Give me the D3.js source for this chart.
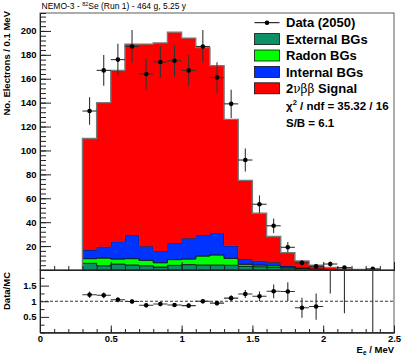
<!DOCTYPE html>
<html>
<head>
<meta charset="utf-8">
<script src="https://cdn.jsdelivr.net/npm/d3@7"></script>
<style>
  body { margin: 0; background: #fff; }
  svg text { font-family: "Liberation Sans", Arial, Helvetica, sans-serif; }
</style>
</head>
<body>
<script>
// bins of 0.1 MeV, lower edges
var binLow = [0.3, 0.4, 0.5, 0.6, 0.7, 0.8, 0.9, 1.0, 1.1, 1.2, 1.3, 1.4, 1.5, 1.6, 1.7, 1.8, 1.9, 2.0, 2.1, 2.2, 2.3];
var binWidth = 0.1;

// data (2050 events) and its errors
var dataCounts = [133, 167, 176, 187, 164, 174, 175, 167, 187, 161, 139, 92, 55, 37, 19, 6, 3, 5, 2, 0, 1];
var dataErrors = [11.5, 12.9, 13.3, 13.7, 12.8, 13.2, 13.2, 12.9, 13.7, 12.7, 11.8, 9.6, 7.4, 6.1, 4.4, 2.4, 1.7, 2.2, 1.4, 0, 1.0];

// MC components, bottom to top
var externalBG = [5.6, 3.6, 5.0, 4.2, 3.6, 2.5, 3.9, 4.5, 4.2, 4.2, 4.0, 3.1, 2.8, 2.2, 1.8, 1.2, 0.8, 0.5, 0.3, 0.2, 0.1];
var radonBG    = [3.9, 6.4, 4.2, 5.3, 4.5, 3.6, 4.8, 4.7, 7.5, 8.4, 5.8, 1.7, 1.4, 1.4, 0.7, 0.4, 0.2, 0.1, 0.05, 0, 0];
var internalBG = [7.2, 9.5, 14.5, 19.5, 11.7, 9.5, 13.6, 17.3, 17.3, 18.1, 10.4, 4.4, 3.6, 2.8, 0.8, 0.4, 0.2, 0.1, 0.05, 0, 0];
var signal2nu  = [93.3, 120.5, 143.3, 160, 169.2, 174.4, 176.7, 167.5, 157, 140.3, 105.8, 65.8, 39.7, 21.6, 11.2, 5.6, 2.9, 1.5, 0.55, 0.2, 0.1];

// data / MC
var ratioValues = [1.21, 1.19, 1.05, 0.99, 0.87, 0.91, 0.88, 0.86, 1.00, 0.94, 1.10, 1.23, 1.16, 1.32, 1.31, 0.79, 0.83, 2.27, 2.1, null, 5.0];
var ratioErrors = [0.105, 0.092, 0.08, 0.072, 0.068, 0.069, 0.066, 0.067, 0.074, 0.074, 0.094, 0.128, 0.156, 0.22, 0.30, 0.32, 0.42, 1.02, 1.48, null, 5.0];

// tick labels
var xTicks = [0, 0.5, 1, 1.5, 2, 2.5];
var yTicks = [20, 40, 60, 80, 100, 120, 140, 160, 180, 200];
var ratioTicks = [0.5, 1, 1.5];

var legendItems = [
  {key: "ext", label: "External BGs", color: "#0c9068"},
  {key: "radon", label: "Radon BGs", color: "#00ff00"},
  {key: "internal", label: "Internal BGs", color: "#0033ff"},
  {key: "signal", label: "Signal", color: "#ff0000"}
];

var W = 415, H = 360;
var left = 40, right = 394, topY = 13, midY = 270, botY = 332.5;

var svg = d3.select("body").append("svg")
    .attr("width", W)
    .attr("height", H);

// scales
var x = d3.scaleLinear().domain([0, 2.5]).range([left, right]);
var y = d3.scaleLinear().domain([0, 215]).range([midY, topY]);
var yr = d3.scaleLinear().domain([0, 2]).range([botY, midY]);

// stacked MC
var rows = binLow.map(function(lo, i) {
  return {lo: lo, ext: externalBG[i], radon: radonBG[i], internal: internalBG[i], signal: signal2nu[i]};
});
var layers = d3.stack().keys(["ext", "radon", "internal", "signal"])(rows);

function steps(layer) {
  var pts = [];
  layer.forEach(function(d) {
    pts.push({x: d.data.lo, y0: d[0], y1: d[1]});
    pts.push({x: d.data.lo + binWidth, y0: d[0], y1: d[1]});
  });
  return pts;
}

var area = d3.area()
    .x(function(p) { return x(p.x); })
    .y0(function(p) { return y(p.y0); })
    .y1(function(p) { return y(p.y1); });

var colorOf = {};
legendItems.forEach(function(l) { colorOf[l.key] = l.color; });

var upper = svg.append("g");
layers.forEach(function(layer) {
  upper.append("path")
    .attr("d", area(steps(layer)))
    .attr("fill", colorOf[layer.key])
    .attr("stroke", layer.key == "signal" ? "none" : "#111")
    .attr("stroke-width", 0.8);
});

// grey outline of total MC
var totalSteps = steps(layers[3]);
var outline = [{x: totalSteps[0].x, v: 0}]
    .concat(totalSteps.map(function(p) { return {x: p.x, v: p.y1}; }))
    .concat([{x: totalSteps[totalSteps.length - 1].x, v: 0}]);
upper.append("path")
    .attr("d", d3.line().x(function(p) { return x(p.x); }).y(function(p) { return y(p.v); })(outline))
    .attr("fill", "none")
    .attr("stroke", "#777")
    .attr("stroke-width", 1.4);

// data points
var pts = binLow.map(function(lo, i) { return {c: lo + binWidth / 2, v: dataCounts[i], e: dataErrors[i]}; })
    .filter(function(d) { return d.v > 0; });
var dg = upper.append("g").attr("stroke", "#333").attr("stroke-width", 1.1);
pts.forEach(function(d) {
  dg.append("line").attr("x1", x(d.c - binWidth / 2)).attr("x2", x(d.c + binWidth / 2))
    .attr("y1", y(d.v)).attr("y2", y(d.v));
  dg.append("line").attr("x1", x(d.c)).attr("x2", x(d.c))
    .attr("y1", y(d.v - d.e)).attr("y2", y(d.v + d.e));
});
upper.selectAll("circle.pt").data(pts).enter().append("circle")
    .attr("cx", function(d) { return x(d.c); })
    .attr("cy", function(d) { return y(d.v); })
    .attr("r", 2.3)
    .attr("fill", "#000");

// frames
function frame(y0, y1) {
  svg.append("rect").attr("x", left).attr("y", y0).attr("width", right - left).attr("height", y1 - y0)
    .attr("fill", "none").attr("stroke", "#333").attr("stroke-width", 0.8);
}
frame(topY, midY);
frame(midY, botY);

// upper axes, ROOT style ticks pointing inward
var yAxis = d3.axisLeft(y).tickValues(yTicks).tickSizeInner(-11).tickSizeOuter(0).tickPadding(3.5);
svg.append("g").attr("transform", "translate(" + left + ",0)").call(yAxis);
var yMinor = d3.axisLeft(y).tickValues(d3.range(4, 215, 4)).tickSize(-6).tickFormat("");
svg.append("g").attr("transform", "translate(" + left + ",0)").call(yMinor);

var xUpMajor = d3.axisBottom(x).tickValues(xTicks).tickSize(-8).tickFormat("");
svg.append("g").attr("transform", "translate(0," + midY + ")").call(xUpMajor);
var xUpMinor = d3.axisBottom(x).tickValues(d3.range(0.1, 2.5, 0.1)).tickSize(-4).tickFormat("");
svg.append("g").attr("transform", "translate(0," + midY + ")").call(xUpMinor);

// lower panel
svg.append("clipPath").attr("id", "rclip").append("rect")
    .attr("x", left).attr("y", midY).attr("width", right - left).attr("height", botY - midY);
var lower = svg.append("g").attr("clip-path", "url(#rclip)");

lower.append("line")
    .attr("x1", x(0)).attr("x2", x(2.5)).attr("y1", yr(1)).attr("y2", yr(1))
    .attr("stroke", "#000").attr("stroke-width", 0.8).attr("stroke-dasharray", "3,2");

var rpts = binLow.map(function(lo, i) { return {c: lo + binWidth / 2, v: ratioValues[i], e: ratioErrors[i]}; })
    .filter(function(d) { return d.v != null; });
var rg = lower.append("g").attr("stroke", "#333").attr("stroke-width", 1.1);
rpts.forEach(function(d) {
  rg.append("line").attr("x1", x(d.c - binWidth / 2)).attr("x2", x(d.c + binWidth / 2))
    .attr("y1", yr(d.v)).attr("y2", yr(d.v));
  rg.append("line").attr("x1", x(d.c)).attr("x2", x(d.c))
    .attr("y1", yr(d.v - d.e)).attr("y2", yr(d.v + d.e));
});
lower.selectAll("circle.rp").data(rpts).enter().append("circle")
    .attr("cx", function(d) { return x(d.c); })
    .attr("cy", function(d) { return yr(d.v); })
    .attr("r", 2.3)
    .attr("fill", "#000");

var ryAxis = d3.axisLeft(yr).tickValues(ratioTicks).tickSizeInner(-9).tickSizeOuter(0).tickPadding(3.5)
    .tickFormat(d3.format("~g"));
svg.append("g").attr("transform", "translate(" + left + ",0)").call(ryAxis);
var ryMinor = d3.axisLeft(yr).tickValues([0.25, 0.75, 1.25, 1.75]).tickSize(-4.5).tickFormat("");
svg.append("g").attr("transform", "translate(" + left + ",0)").call(ryMinor);

var xAxis = d3.axisBottom(x).tickValues(xTicks).tickSizeInner(-7).tickSizeOuter(0).tickPadding(3)
    .tickFormat(d3.format("~g"));
svg.append("g").attr("transform", "translate(0," + botY + ")").call(xAxis);
var xMinor = d3.axisBottom(x).tickValues(d3.range(0.1, 2.5, 0.1)).tickSize(-3.5).tickFormat("");
svg.append("g").attr("transform", "translate(0," + botY + ")").call(xMinor);

svg.selectAll(".domain").attr("stroke", "#222");
svg.selectAll(".tick line").attr("stroke", "#222");
svg.selectAll(".tick text")
    .attr("font-family", "'Liberation Sans', Arial, sans-serif")
    .attr("font-size", 9.5)
    .attr("font-weight", "bold")
    .attr("fill", "#000");

// axis titles
svg.append("text")
    .attr("transform", "translate(9.5,11) rotate(-90)")
    .attr("text-anchor", "end")
    .attr("font-size", 9.5).attr("font-weight", "bold")
    .text("No. Electrons / 0.1 MeV");
svg.append("text")
    .attr("transform", "translate(9.5,272) rotate(-90)")
    .attr("text-anchor", "end")
    .attr("font-size", 9.5).attr("font-weight", "bold")
    .text("Data/MC");
var xt = svg.append("text")
    .attr("x", right).attr("y", 353)
    .attr("text-anchor", "end")
    .attr("font-size", 9.5).attr("font-weight", "bold");
xt.append("tspan").text("E");
xt.append("tspan").attr("font-size", 6.5).attr("dy", 2).text("e");
xt.append("tspan").attr("dy", -2).text(" / MeV");

// title
var tt = svg.append("text").attr("x", 41.5).attr("y", 9).attr("font-size", 8.5);
tt.append("tspan").text("NEMO-3 - ");
tt.append("tspan").attr("font-size", 5.5).attr("dy", -3).text("82");
tt.append("tspan").attr("dy", 3).text("Se (Run 1) - 464 g, 5.25 y");

// legend
var lx = 254.5, ltx = 286, ly0 = 22.7, lstep = 16.4;
var leg = svg.append("g").attr("font-size", 13).attr("font-weight", "bold");
leg.append("line").attr("x1", lx).attr("x2", lx + 25).attr("y1", ly0).attr("y2", ly0)
    .attr("stroke", "#000").attr("stroke-width", 1);
leg.append("circle").attr("cx", lx + 12.5).attr("cy", ly0).attr("r", 2.3).attr("fill", "#000");
leg.append("text").attr("x", ltx).attr("y", ly0 + 4.6).text("Data (" + d3.sum(dataCounts) + ")");

legendItems.forEach(function(l, i) {
  var cy = ly0 + lstep * (i + 1);
  leg.append("rect").attr("x", lx).attr("y", cy - 5.5).attr("width", 25).attr("height", 11)
    .attr("fill", l.color).attr("stroke", "#111").attr("stroke-width", 0.8);
  var t = leg.append("text").attr("x", ltx).attr("y", cy + 4.6);
  if (l.key == "signal") {
    t.append("tspan").text("2");
    t.append("tspan").attr("font-family", "'DejaVu Serif', serif").attr("font-weight", "normal")
      .attr("font-size", 12).text("νββ");
    t.append("tspan").text(" " + l.label);
  } else {
    t.text(l.label);
  }
});

var chi = leg.append("text").attr("x", ltx).attr("y", 110).attr("font-size", 11.5);
chi.append("tspan").text("χ");
chi.append("tspan").attr("font-size", 7.5).attr("dy", -5).text("2");
chi.append("tspan").attr("dy", 5).text(" / ndf = 35.32 / 16");
leg.append("text").attr("x", ltx).attr("y", 127).attr("font-size", 11.5).text("S/B = 6.1");
</script>
</body>
</html>
